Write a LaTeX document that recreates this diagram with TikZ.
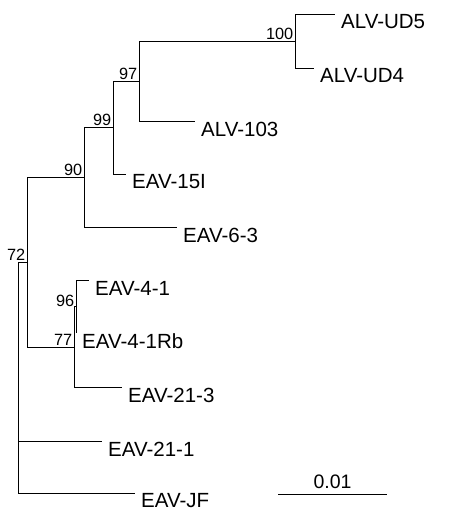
\documentclass[tikz,border=0pt]{standalone}
\usepackage{fontspec}
\setmainfont{Liberation Sans}
\usepackage{tikz}
\usetikzlibrary{positioning, calc}

\begin{document}
\begin{tikzpicture}[x=1pt, y=-1pt, font=\fontsize{20.5}{20.5}\selectfont,
                branch/.style={line width=0.8pt},
                leaf label/.style={anchor=west, xshift=5pt, yshift=-8pt, inner sep=1pt},
                boot/.style={anchor=south east, inner sep=1.5pt, font=\fontsize{16.3}{16.3}\selectfont}]
                \useasboundingbox (0,0) rectangle (450,523);

                % Internal nodes
                \coordinate (root) at (18,263);
                \coordinate (n72) at (27,262.5);
                \coordinate (n90) at (84,177.5);
                \coordinate (n99) at (113,127.5);
                \coordinate (n97) at (139,81);
                \coordinate (n100) at (295,41);
                \coordinate (n77) at (74,347);
                \coordinate (n96) at (76,306.5);

                % Leaf tips
                \coordinate (ud5) at (335,14);
                \coordinate (ud4) at (314,68);
                \coordinate (alv103) at (195,121);
                \coordinate (eav15) at (126,174);
                \coordinate (eav63) at (177,227);
                \coordinate (eav41) at (89,280);
                \coordinate (eav41rb) at (76,333);
                \coordinate (eav213) at (122,387);
                \coordinate (eav211) at (102,441);
                \coordinate (eavjf) at (135,493);

                % Branches
                \draw[branch] (root) |- (n72);
                \draw[branch] (root) |- (eav211);
                \draw[branch] (root) |- (eavjf);
                \draw[branch] (n72) |- (n90);
                \draw[branch] (n72) |- (n77);
                \draw[branch] (n90) |- (n99);
                \draw[branch] (n90) |- (eav63);
                \draw[branch] (n99) |- (n97);
                \draw[branch] (n99) |- (eav15);
                \draw[branch] (n97) |- (n100);
                \draw[branch] (n97) |- (alv103);
                \draw[branch] (n100) |- (ud5);
                \draw[branch] (n100) |- (ud4);
                \draw[branch] (n77) |- (n96);
                \draw[branch] (n77) |- (eav213);
                \draw[branch] (n96) |- (eav41);
                \draw[branch] (n96) |- (eav41rb);

                % Leaf labels
                \node[leaf label] (lud5) at (ud5) {ALV-UD5};
                \node[leaf label] (lud4) at (ud4) {ALV-UD4};
                \node[leaf label] (l103) at (alv103) {ALV-103};
                \node[leaf label] (l15) at (eav15) {EAV-15I};
                \node[leaf label] (l63) at (eav63) {EAV-6-3};
                \node[leaf label] (l41) at (eav41) {EAV-4-1};
                \node[leaf label] (l41rb) at (eav41rb) {EAV-4-1Rb};
                \node[leaf label] (l213) at (eav213) {EAV-21-3};
                \node[leaf label] (l211) at (eav211) {EAV-21-1};
                \node[leaf label] (ljf) at (eavjf) {EAV-JF};

                % Bootstrap values
                \node[boot] (b100) at (n100) {100};
                \node[boot] (b97) at (n97) {97};
                \node[boot] (b99) at (n99) {99};
                \node[boot] (b90) at (n90) {90};
                \node[boot] (b72) at (n72) {72};
                \node[boot] (b96) at ($(n96)+(0,2)$) {96};
                \node[boot] (b77) at (n77) {77};

                % Scale bar
                \coordinate (sb1) at (278,494);
                \coordinate (sb2) at (387,494);
                \draw[branch] (sb1) -- (sb2) node[midway, above=2pt, font=\fontsize{19.5}{19.5}\selectfont] (sblabel) {0.01};
            \end{tikzpicture}
\end{document}
